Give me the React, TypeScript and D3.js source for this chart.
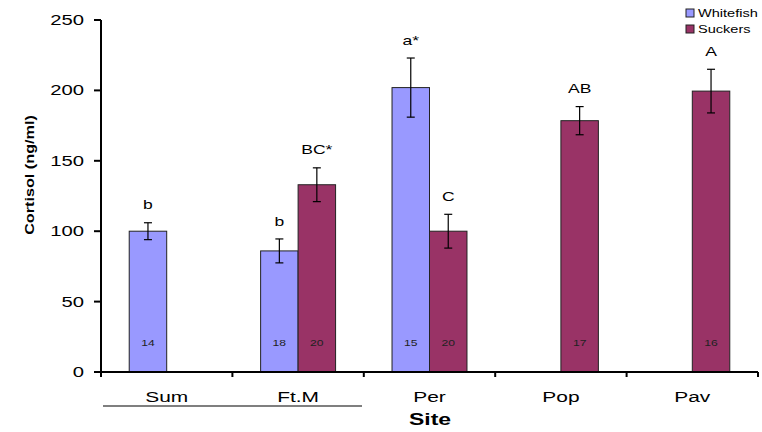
import React, { useEffect, useRef } from 'react';
import * as d3 from 'd3';

const sites = ['Sum', 'Ft.M', 'Per', 'Pop', 'Pav'];
const series = ['Whitefish', 'Suckers'];

const whitefishMeans = [100, 86, 202, null, null];
const whitefishErr = [6, 8.5, 21, null, null];
const whitefishN = [14, 18, 15, null, null];
const whitefishLetters = ['b', 'b', 'a*', null, null];

const suckersMeans = [null, 133, 100, 178.5, 199.5];
const suckersErr = [null, 12, 12, 10, 15.5];
const suckersN = [null, 20, 20, 17, 16];
const suckersLetters = [null, 'BC*', 'C', 'AB', 'A'];

const yTicks = [0, 50, 100, 150, 200, 250];

const colors: Record<string, string> = { Whitefish: '#9999FF', Suckers: '#993366' };

interface Bar {
  site: string;
  series: string;
  mean: number;
  err: number;
  n: number;
  letter: string;
}

const FONT = 'Liberation Sans, Arial, sans-serif';
const SX = 1.35; // the original picture is stretched sideways

const App: React.FC = () => {
  const ref = useRef<SVGSVGElement>(null);

  useEffect(() => {
    if (!ref.current) return;
    const svg = d3.select(ref.current);
    svg.selectAll('*').remove();

    const bars: Bar[] = [];
    sites.forEach((s, i) => {
      if (whitefishMeans[i] != null) {
        bars.push({ site: s, series: 'Whitefish', mean: whitefishMeans[i] as number, err: whitefishErr[i] as number, n: whitefishN[i] as number, letter: whitefishLetters[i] as string });
      }
      if (suckersMeans[i] != null) {
        bars.push({ site: s, series: 'Suckers', mean: suckersMeans[i] as number, err: suckersErr[i] as number, n: suckersN[i] as number, letter: suckersLetters[i] as string });
      }
    });

    const x0 = d3.scaleBand().domain(sites).range([101, 758]).padding(0);
    const x1 = d3.scaleBand().domain(series).range([0, x0.bandwidth()]).paddingInner(0).paddingOuter(0.753);
    const y = d3.scaleLinear().domain([0, 250]).range([372, 20]);

    // stretched text helper
    const text = (x: number, yy: number, str: string, size: number, opts: { anchor?: string; bold?: boolean; fill?: string; rotate?: boolean; sx?: number } = {}) => {
      const sx = opts.sx || SX;
      const tf = opts.rotate
        ? `translate(${x},${yy}) rotate(-90) scale(${sx},1)`
        : `translate(${x},${yy}) scale(${sx},1)`;
      svg.append('text')
        .attr('transform', tf)
        .attr('text-anchor', opts.anchor || 'middle')
        .attr('dominant-baseline', 'central')
        .style('font-family', FONT)
        .style('font-size', size + 'px')
        .style('font-weight', opts.bold ? 'bold' : 'normal')
        .attr('fill', opts.fill || '#000')
        .text(str);
    };

    // bars
    const bx = (d: Bar) => (x0(d.site) || 0) + (x1(d.series) || 0);
    svg.append('g').selectAll('rect')
      .data(bars)
      .enter().append('rect')
      .attr('x', d => bx(d))
      .attr('y', d => y(d.mean))
      .attr('width', x1.bandwidth())
      .attr('height', d => y(0) - y(d.mean))
      .attr('fill', d => colors[d.series])
      .attr('stroke', '#222')
      .attr('stroke-width', 1);

    // error bars
    const eb = svg.append('g').attr('stroke', '#000').attr('stroke-width', 1.2);
    bars.forEach(d => {
      const cx = bx(d) + x1.bandwidth() / 2;
      const top = y(d.mean + d.err);
      const bot = y(d.mean - d.err);
      eb.append('line').attr('x1', cx).attr('x2', cx).attr('y1', top).attr('y2', bot);
      eb.append('line').attr('x1', cx - 4).attr('x2', cx + 4).attr('y1', top).attr('y2', top);
      eb.append('line').attr('x1', cx - 4).attr('x2', cx + 4).attr('y1', bot).attr('y2', bot);
      text(cx, top - 18, d.letter, 13);
      text(cx, y(21), String(d.n), 9, { fill: '#222' });
    });

    // y axis
    const ax = svg.append('g').attr('stroke', '#000');
    ax.append('line').attr('x1', 101).attr('x2', 101).attr('y1', y(250)).attr('y2', y(0) + 1).attr('stroke-width', 2);
    yTicks.forEach(t => {
      ax.append('line').attr('x1', 94).attr('x2', 101).attr('y1', y(t)).attr('y2', y(t)).attr('stroke-width', 2);
      text(84, y(t), String(t), 15, { anchor: 'end' });
    });

    // x axis
    ax.append('line').attr('x1', 94).attr('x2', 758).attr('y1', y(0)).attr('y2', y(0)).attr('stroke-width', 2);
    const bounds = sites.map(s => x0(s) || 0).concat([x0.range()[1]]);
    bounds.forEach(b => {
      ax.append('line').attr('x1', b).attr('x2', b).attr('y1', y(0)).attr('y2', y(0) + 5).attr('stroke-width', 2);
    });
    sites.forEach(s => {
      text((x0(s) || 0) + x0.bandwidth() / 2, 397, s, 15.5);
    });

    // grouping line under Sum and Ft.M
    svg.append('line')
      .attr('x1', 103).attr('x2', 362).attr('y1', 406).attr('y2', 406)
      .attr('stroke', '#000').attr('stroke-width', 1.2);

    // axis titles
    text(430, 419, 'Site', 17, { bold: true });
    text(29, 175, 'Cortisol (ng/ml)', 13.5, { bold: true, rotate: true, sx: 1.2 });

    // legend
    series.forEach((s, i) => {
      const ly = 13 + i * 16;
      svg.append('rect')
        .attr('x', 686).attr('y', ly - 4).attr('width', 8).attr('height', 8)
        .attr('fill', colors[s]).attr('stroke', '#222');
      text(698, ly, s, 10.8, { anchor: 'start' });
    });
  }, []);

  return (
    <svg ref={ref} width={762} height={432} style={{ position: 'absolute', left: 0, top: 0, background: '#fff' }} />
  );
};

export default App;
